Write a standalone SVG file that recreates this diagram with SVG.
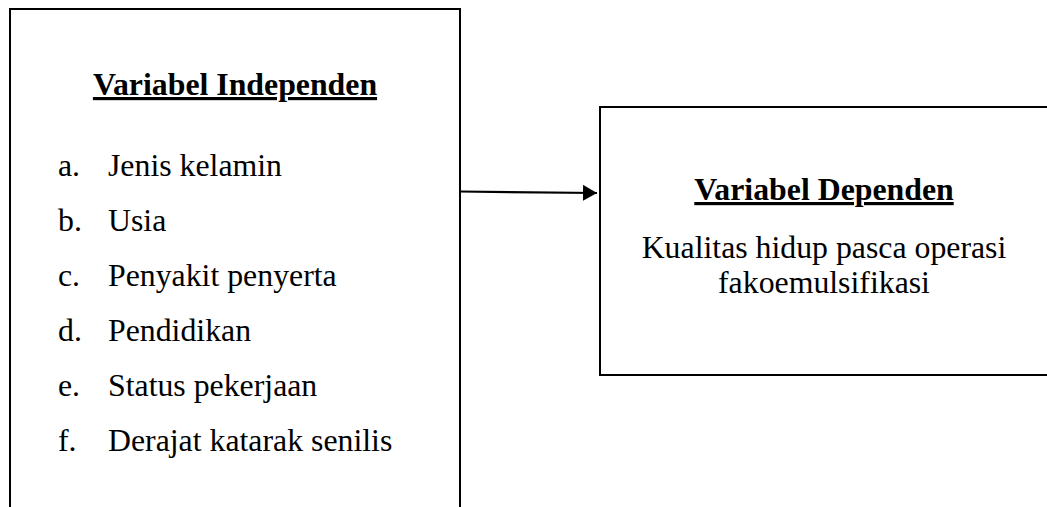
<svg xmlns="http://www.w3.org/2000/svg" width="1047" height="507" viewBox="0 0 1047 507">
<style>
.box{fill:#fff;stroke:#000;stroke-width:2}
.t{font-family:"Liberation Serif","Times New Roman",serif;font-size:31.8px;fill:#000}
.h{font-weight:bold;text-decoration:underline}
.c{text-anchor:middle}
.conn{stroke:#000;stroke-width:2.2;fill:none}
</style>
<defs>
<marker id="ah" markerWidth="14" markerHeight="16" refX="14" refY="8" orient="auto" markerUnits="userSpaceOnUse">
<path d="M0,0 L14,8 L0,16 Z" fill="#000"/>
</marker>
</defs>
<g id="independen">
<rect class="box" x="10" y="9" width="450" height="520"/>
<text class="t h c" x="235" y="95">Variabel Independen</text>
<text class="t" x="58" y="176">a.</text><text class="t" x="108" y="176">Jenis kelamin</text>
<text class="t" x="58" y="231">b.</text><text class="t" x="108" y="231">Usia</text>
<text class="t" x="58" y="286">c.</text><text class="t" x="108" y="286">Penyakit penyerta</text>
<text class="t" x="58" y="341">d.</text><text class="t" x="108" y="341">Pendidikan</text>
<text class="t" x="58" y="396">e.</text><text class="t" x="108" y="396">Status pekerjaan</text>
<text class="t" x="58" y="451">f.</text><text class="t" x="108" y="451">Derajat katarak senilis</text>
</g>
<g id="dependen">
<rect class="box" x="600" y="107" width="450" height="268"/>
<text class="t h c" x="824" y="200">Variabel Dependen</text>
<text class="t c" x="824" y="258">Kualitas hidup pasca operasi</text>
<text class="t c" x="824" y="293">fakoemulsifikasi</text>
</g>
<g id="connectors">
<line class="conn" x1="460" y1="191.5" x2="597" y2="193" marker-end="url(#ah)"/>
</g>
</svg>
